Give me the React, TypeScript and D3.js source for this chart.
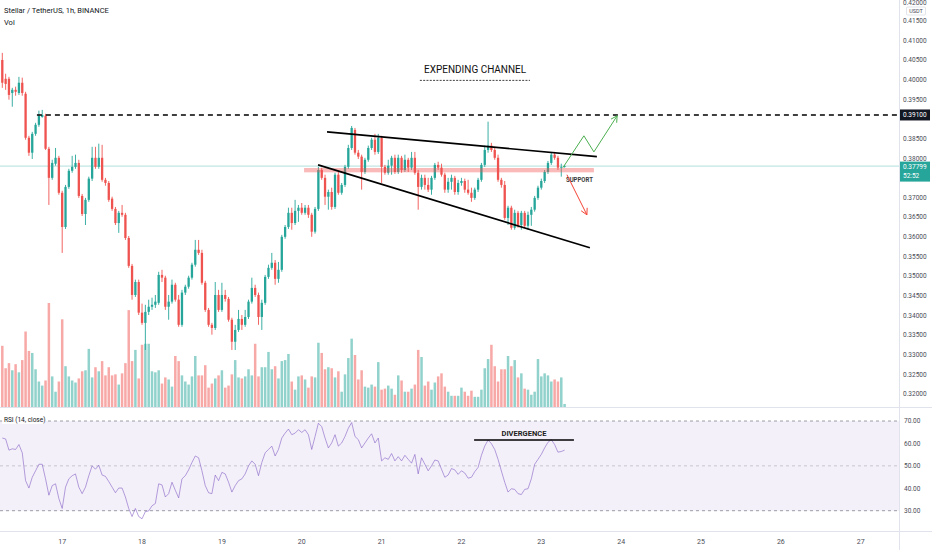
import React, { useEffect, useRef } from 'react';
import * as d3 from 'd3';

// hourly XLM/USDT bars, [open, high, low, close]
const candles: [number, number, number, number][] = [
  [0.4050, 0.4068, 0.3979, 0.3992], [0.4002, 0.4015, 0.3974, 0.3989], [0.4002, 0.4007, 0.3949, 0.3961],
  [0.3966, 0.3979, 0.3931, 0.3974], [0.3974, 0.3982, 0.3959, 0.3969], [0.3966, 0.4007, 0.3961, 0.3992],
  [0.3992, 0.4005, 0.3959, 0.3966], [0.3964, 0.3969, 0.3847, 0.3852], [0.3852, 0.3857, 0.3806, 0.3814],
  [0.3814, 0.3867, 0.3798, 0.3862], [0.3862, 0.3890, 0.3857, 0.3885], [0.3885, 0.3921, 0.3880, 0.3908],
  [0.3905, 0.3923, 0.3903, 0.3910], [0.3908, 0.3913, 0.3821, 0.3824], [0.3824, 0.3829, 0.3681, 0.3750],
  [0.3750, 0.3796, 0.3745, 0.3788], [0.3786, 0.3826, 0.3781, 0.3801], [0.3801, 0.3806, 0.3707, 0.3712],
  [0.3712, 0.3717, 0.3559, 0.3625], [0.3625, 0.3732, 0.3620, 0.3727], [0.3727, 0.3773, 0.3722, 0.3768],
  [0.3768, 0.3806, 0.3763, 0.3778], [0.3778, 0.3809, 0.3773, 0.3788], [0.3788, 0.3796, 0.3699, 0.3704],
  [0.3704, 0.3709, 0.3653, 0.3658], [0.3658, 0.3699, 0.3630, 0.3694], [0.3694, 0.3753, 0.3689, 0.3748],
  [0.3748, 0.3829, 0.3742, 0.3801], [0.3801, 0.3829, 0.3773, 0.3778], [0.3778, 0.3837, 0.3773, 0.3801],
  [0.3801, 0.3834, 0.3740, 0.3745], [0.3745, 0.3750, 0.3730, 0.3737], [0.3737, 0.3742, 0.3689, 0.3694],
  [0.3697, 0.3702, 0.3666, 0.3671], [0.3671, 0.3676, 0.3630, 0.3635], [0.3635, 0.3666, 0.3610, 0.3661],
  [0.3661, 0.3681, 0.3651, 0.3656], [0.3656, 0.3661, 0.3592, 0.3597], [0.3597, 0.3602, 0.3521, 0.3526],
  [0.3526, 0.3531, 0.3440, 0.3452], [0.3452, 0.3491, 0.3447, 0.3485], [0.3485, 0.3491, 0.3401, 0.3407],
  [0.3407, 0.3430, 0.3376, 0.3381], [0.3381, 0.3427, 0.3312, 0.3409], [0.3409, 0.3440, 0.3401, 0.3422],
  [0.3422, 0.3445, 0.3414, 0.3427], [0.3427, 0.3452, 0.3419, 0.3435], [0.3432, 0.3511, 0.3427, 0.3503],
  [0.3503, 0.3516, 0.3485, 0.3496], [0.3496, 0.3501, 0.3414, 0.3422], [0.3422, 0.3452, 0.3389, 0.3435],
  [0.3435, 0.3491, 0.3430, 0.3478], [0.3478, 0.3483, 0.3435, 0.3440], [0.3440, 0.3452, 0.3371, 0.3376],
  [0.3376, 0.3465, 0.3371, 0.3458], [0.3458, 0.3478, 0.3452, 0.3473], [0.3473, 0.3501, 0.3468, 0.3496],
  [0.3496, 0.3534, 0.3491, 0.3529], [0.3529, 0.3592, 0.3524, 0.3567], [0.3567, 0.3592, 0.3554, 0.3559],
  [0.3559, 0.3567, 0.3478, 0.3483], [0.3483, 0.3488, 0.3409, 0.3414], [0.3414, 0.3419, 0.3371, 0.3376],
  [0.3376, 0.3381, 0.3351, 0.3368], [0.3368, 0.3485, 0.3363, 0.3452], [0.3452, 0.3465, 0.3409, 0.3414],
  [0.3414, 0.3483, 0.3409, 0.3452], [0.3452, 0.3465, 0.3435, 0.3442], [0.3442, 0.3447, 0.3384, 0.3389],
  [0.3389, 0.3394, 0.3312, 0.3333], [0.3333, 0.3376, 0.3312, 0.3363], [0.3363, 0.3414, 0.3358, 0.3391],
  [0.3391, 0.3401, 0.3363, 0.3376], [0.3376, 0.3414, 0.3371, 0.3396], [0.3396, 0.3440, 0.3391, 0.3435],
  [0.3435, 0.3496, 0.3430, 0.3470], [0.3470, 0.3478, 0.3447, 0.3452], [0.3452, 0.3458, 0.3376, 0.3396],
  [0.3396, 0.3440, 0.3363, 0.3432], [0.3432, 0.3503, 0.3427, 0.3498], [0.3498, 0.3529, 0.3493, 0.3521],
  [0.3521, 0.3559, 0.3516, 0.3534], [0.3534, 0.3541, 0.3478, 0.3493], [0.3493, 0.3536, 0.3483, 0.3516],
  [0.3516, 0.3605, 0.3511, 0.3600], [0.3600, 0.3630, 0.3595, 0.3625], [0.3625, 0.3674, 0.3620, 0.3661],
  [0.3661, 0.3674, 0.3618, 0.3635], [0.3635, 0.3694, 0.3630, 0.3666], [0.3666, 0.3681, 0.3638, 0.3674],
  [0.3674, 0.3686, 0.3656, 0.3661], [0.3661, 0.3681, 0.3656, 0.3674], [0.3674, 0.3681, 0.3648, 0.3656],
  [0.3656, 0.3661, 0.3600, 0.3613], [0.3613, 0.3676, 0.3608, 0.3671], [0.3671, 0.3778, 0.3666, 0.3770],
  [0.3770, 0.3776, 0.3745, 0.3750], [0.3750, 0.3758, 0.3681, 0.3702], [0.3702, 0.3720, 0.3669, 0.3714],
  [0.3714, 0.3725, 0.3669, 0.3676], [0.3676, 0.3763, 0.3671, 0.3758], [0.3758, 0.3765, 0.3707, 0.3712],
  [0.3712, 0.3737, 0.3707, 0.3732], [0.3732, 0.3783, 0.3727, 0.3778], [0.3778, 0.3834, 0.3773, 0.3826],
  [0.3826, 0.3882, 0.3821, 0.3877], [0.3872, 0.3877, 0.3809, 0.3814], [0.3814, 0.3821, 0.3798, 0.3804],
  [0.3804, 0.3809, 0.3720, 0.3765], [0.3765, 0.3801, 0.3760, 0.3796], [0.3796, 0.3832, 0.3791, 0.3826],
  [0.3826, 0.3852, 0.3821, 0.3847], [0.3847, 0.3862, 0.3809, 0.3816], [0.3816, 0.3862, 0.3811, 0.3852],
  [0.3852, 0.3857, 0.3737, 0.3778], [0.3778, 0.3783, 0.3758, 0.3763], [0.3763, 0.3796, 0.3758, 0.3781],
  [0.3781, 0.3806, 0.3758, 0.3801], [0.3801, 0.3809, 0.3760, 0.3765], [0.3765, 0.3809, 0.3760, 0.3801],
  [0.3801, 0.3806, 0.3763, 0.3770], [0.3770, 0.3809, 0.3765, 0.3796], [0.3796, 0.3801, 0.3765, 0.3776],
  [0.3776, 0.3816, 0.3770, 0.3801], [0.3801, 0.3816, 0.3758, 0.3763], [0.3763, 0.3770, 0.3669, 0.3727],
  [0.3727, 0.3758, 0.3720, 0.3750], [0.3750, 0.3758, 0.3720, 0.3732], [0.3732, 0.3750, 0.3714, 0.3720],
  [0.3720, 0.3755, 0.3707, 0.3750], [0.3750, 0.3788, 0.3745, 0.3783], [0.3783, 0.3791, 0.3770, 0.3776],
  [0.3776, 0.3786, 0.3753, 0.3758], [0.3758, 0.3763, 0.3712, 0.3720], [0.3720, 0.3750, 0.3712, 0.3740],
  [0.3740, 0.3758, 0.3720, 0.3750], [0.3750, 0.3755, 0.3707, 0.3714], [0.3714, 0.3745, 0.3707, 0.3737],
  [0.3737, 0.3750, 0.3730, 0.3742], [0.3742, 0.3748, 0.3712, 0.3720], [0.3720, 0.3745, 0.3707, 0.3712],
  [0.3712, 0.3725, 0.3689, 0.3699], [0.3699, 0.3725, 0.3694, 0.3720], [0.3720, 0.3750, 0.3714, 0.3745],
  [0.3745, 0.3788, 0.3740, 0.3783], [0.3783, 0.3832, 0.3778, 0.3821], [0.3821, 0.3893, 0.3814, 0.3832],
  [0.3832, 0.3839, 0.3816, 0.3821], [0.3821, 0.3826, 0.3796, 0.3801], [0.3801, 0.3809, 0.3740, 0.3745],
  [0.3745, 0.3750, 0.3725, 0.3732], [0.3732, 0.3742, 0.3643, 0.3648], [0.3648, 0.3679, 0.3630, 0.3674],
  [0.3674, 0.3679, 0.3618, 0.3623], [0.3623, 0.3669, 0.3618, 0.3661], [0.3661, 0.3666, 0.3623, 0.3630],
  [0.3630, 0.3666, 0.3618, 0.3661], [0.3661, 0.3666, 0.3623, 0.3628], [0.3628, 0.3664, 0.3618, 0.3656],
  [0.3656, 0.3676, 0.3628, 0.3669], [0.3669, 0.3704, 0.3664, 0.3699], [0.3699, 0.3730, 0.3694, 0.3725],
  [0.3725, 0.3748, 0.3720, 0.3742], [0.3742, 0.3770, 0.3737, 0.3765], [0.3765, 0.3793, 0.3760, 0.3788],
  [0.3788, 0.3814, 0.3783, 0.3809], [0.3809, 0.3816, 0.3796, 0.3801], [0.3801, 0.3806, 0.3770, 0.3776],
  [0.3776, 0.3786, 0.3753, 0.3778], [0.3778, 0.3783, 0.3776, 0.37799],
];

// volume per bar (relative units, no scale shown on the chart)
const volumes: number[] = [
  60, 38, 43, 36, 42, 34, 46, 74, 55, 53,
  37, 25, 21, 26, 102, 30, 15, 25, 86, 40,
  30, 26, 24, 28, 35, 36, 57, 29, 39, 35,
  45, 31, 39, 31, 32, 22, 33, 43, 95, 45,
  56, 28, 61, 62, 62, 35, 34, 36, 23, 29,
  27, 20, 50, 45, 31, 25, 22, 30, 50, 31,
  31, 41, 19, 23, 28, 31, 36, 19, 21, 32,
  46, 29, 28, 30, 37, 31, 62, 30, 39, 39,
  54, 37, 40, 28, 45, 46, 52, 25, 17, 30,
  31, 27, 19, 30, 29, 63, 53, 37, 39, 38,
  29, 35, 15, 32, 48, 67, 51, 27, 36, 20,
  19, 22, 20, 44, 17, 18, 21, 18, 12, 31,
  26, 15, 15, 18, 22, 56, 49, 21, 25, 17,
  24, 30, 33, 20, 15, 11, 11, 11, 19, 15,
  11, 16, 10, 10, 17, 38, 47, 61, 40, 25,
  37, 37, 50, 40, 46, 29, 33, 18, 17, 12,
  15, 47, 30, 33, 31, 25, 27, 25, 29, 3,
];

// RSI (14, close)
const rsiValues: number[] = [
  62.4, 62.0, 57.0, 57.6, 57.3, 59.5, 55.8, 43.4, 40.1, 44.9,
  47.8, 50.7, 50.7, 44.2, 36.9, 41.2, 42.0, 35.4, 31.0, 40.5,
  44.2, 45.6, 46.4, 40.5, 37.6, 40.5, 45.6, 50.0, 48.5, 50.3,
  45.9, 45.3, 43.0, 40.5, 38.0, 40.1, 40.1, 36.1, 31.0, 27.4,
  31.0, 27.4, 26.4, 29.6, 29.9, 32.2, 33.2, 42.0, 41.5, 36.1,
  37.6, 42.7, 39.1, 35.7, 44.2, 45.6, 48.2, 51.5, 54.4, 53.6,
  47.8, 41.2, 38.0, 37.6, 45.9, 43.4, 47.1, 46.4, 42.7, 38.3,
  41.2, 43.4, 44.2, 46.4, 50.0, 52.2, 50.7, 45.6, 51.5, 55.8,
  57.3, 58.8, 54.4, 57.3, 62.4, 64.6, 66.4, 63.9, 64.6, 66.1,
  64.9, 66.1, 63.9, 57.3, 63.1, 69.0, 67.5, 62.4, 58.0, 60.2,
  63.9, 58.8, 60.2, 63.1, 66.8, 69.3, 63.1, 61.7, 58.0, 60.2,
  62.4, 64.3, 60.2, 62.4, 52.2, 53.6, 52.9, 55.5, 52.2, 54.1,
  52.2, 54.7, 52.9, 51.2, 55.1, 46.4, 53.6, 50.7, 47.8, 50.0,
  52.6, 52.2, 48.5, 44.9, 45.9, 48.8, 48.2, 46.2, 47.8, 46.8,
  44.5, 44.9, 47.4, 49.3, 54.7, 58.8, 61.5, 59.9, 57.3, 52.9,
  47.7, 42.7, 38.3, 39.8, 39.5, 37.6, 37.2, 39.5, 39.8, 44.2,
  50.7, 52.9, 55.1, 58.0, 60.5, 61.7, 59.5, 56.1, 56.4, 57.0,
];

// tick labels (0.39000 and 0.37500 sit under the price tags, so they are not listed)
const priceTicks = [0.42, 0.415, 0.41, 0.405, 0.4, 0.395, 0.385, 0.38, 0.37, 0.365,
  0.36, 0.355, 0.35, 0.345, 0.34, 0.335, 0.33, 0.325, 0.32];
const rsiTicks = [70, 60, 50, 40, 30];
const dayTicks = [17, 18, 19, 20, 21, 22, 23, 24, 25, 26, 27];

// drawings, as [bar index, price]
const resistance = { price: 0.391, fromBar: 10.4 };
const upperChannel: [number, number][] = [[97.6, 0.3867], [178.7, 0.3804]];
const lowerChannel: [number, number][] = [[94.9, 0.3783], [176.6, 0.3572]];
const supportZone = { fromBar: 90.7, toBar: 177.8, low: 0.3764, high: 0.3775 };
const bullishPath: [number, number][] = [[168.5, 0.3776], [174.8, 0.3857], [177.8, 0.3816], [184.8, 0.3908]];
const bearishPath: [number, number][] = [[169.7, 0.3758], [175.7, 0.3656]];
const divergence = { fromBar: 141.8, toBar: 171.8, rsi: 61.5 };

const UP = '#26a69a';
const DOWN = '#ef5350';
const TEXT = '#131722';
const FONT = 'Roboto, "DejaVu Sans", sans-serif';

const App: React.FC = () => {
  const svgRef = useRef<SVGSVGElement>(null);

  useEffect(() => {
    if (!svgRef.current) return;
    const svg = d3.select(svgRef.current);
    svg.selectAll('*').remove();

    const paneRight = 899;
    const priceBottom = 407;
    const rsiBottom = 531;

    // time scale: one bar per hour, first bar on the 16th at 06:00
    const t0 = Date.UTC(2021, 10, 16, 6);
    const hour = 3600 * 1000;
    const x = d3.scaleUtc()
      .domain([new Date(t0), new Date(t0 + 169 * hour)])
      .range([2.3, 564.6]);
    const barX = (i: number) => x(new Date(t0 + i * hour));

    const y = d3.scaleLinear().domain([0.32, 0.415]).range([394, 20.65]);
    const yVol = d3.scaleLinear().domain([0, 100]).range([priceBottom, 305]);
    const yRsi = d3.scaleLinear().domain([30, 70]).range([510.7, 421]);

    const defs = svg.append('defs');
    defs.append('clipPath').attr('id', 'price-clip')
      .append('rect').attr('x', 0).attr('y', 0).attr('width', paneRight).attr('height', priceBottom);
    defs.append('clipPath').attr('id', 'rsi-clip')
      .append('rect').attr('x', 0).attr('y', priceBottom + 1).attr('width', paneRight).attr('height', rsiBottom - priceBottom - 1);

    svg.append('rect').attr('width', 932).attr('height', 550).attr('fill', '#ffffff');

    // ---------- price pane ----------
    const price = svg.append('g').attr('clip-path', 'url(#price-clip)');

    // volume bars
    price.selectAll('.vol')
      .data(volumes)
      .enter()
      .append('rect')
      .attr('x', (_, i) => barX(i) - 1.25)
      .attr('y', (d) => yVol(d))
      .attr('width', 2.5)
      .attr('height', (d) => priceBottom - yVol(d))
      .attr('fill', (_, i) => (candles[i][3] >= candles[i][0] ? '#92d2cc' : '#f7a9a7'));

    // last price line
    const last = candles[candles.length - 1][3];
    price.append('line')
      .attr('x1', 0).attr('x2', paneRight)
      .attr('y1', y(last)).attr('y2', y(last))
      .attr('stroke', UP).attr('stroke-opacity', 0.35).attr('stroke-width', 1);

    // candles
    const bars = price.selectAll('.bar')
      .data(candles)
      .enter()
      .append('g');
    bars.append('line')
      .attr('x1', (_, i) => barX(i)).attr('x2', (_, i) => barX(i))
      .attr('y1', (d) => y(d[1])).attr('y2', (d) => y(d[2]))
      .attr('stroke', (d) => (d[3] >= d[0] ? UP : DOWN))
      .attr('stroke-width', 0.9);
    bars.append('rect')
      .attr('x', (_, i) => barX(i) - 1.15)
      .attr('y', (d) => y(Math.max(d[0], d[3])))
      .attr('width', 2.3)
      .attr('height', (d) => Math.max(0.8, Math.abs(y(d[0]) - y(d[3]))))
      .attr('fill', (d) => (d[3] >= d[0] ? UP : DOWN));

    // support zone
    price.append('rect')
      .attr('x', barX(supportZone.fromBar))
      .attr('y', y(supportZone.high))
      .attr('width', barX(supportZone.toBar) - barX(supportZone.fromBar))
      .attr('height', y(supportZone.low) - y(supportZone.high))
      .attr('fill', DOWN).attr('fill-opacity', 0.4);

    price.append('text')
      .attr('x', barX(169.4))
      .attr('y', y(supportZone.low) + 9.5)
      .attr('font-family', FONT).attr('font-size', 7.5).attr('font-weight', 'bold')
      .attr('fill', '#3a3a3a')
      .attr('textLength', 27).attr('lengthAdjust', 'spacingAndGlyphs')
      .text('SUPPORT');

    // resistance level
    price.append('line')
      .attr('x1', barX(resistance.fromBar)).attr('x2', paneRight)
      .attr('y1', y(resistance.price)).attr('y2', y(resistance.price))
      .attr('stroke', '#000').attr('stroke-width', 1.4).attr('stroke-dasharray', '5,4');

    // channel
    const line = d3.line<[number, number]>().x((d) => barX(d[0])).y((d) => y(d[1]));
    [upperChannel, lowerChannel].forEach((pts) => {
      price.append('path').attr('d', line(pts)).attr('fill', 'none')
        .attr('stroke', '#000').attr('stroke-width', 1.6);
    });

    // projected moves with arrow heads
    const arrow = (pts: [number, number][], color: string) => {
      price.append('path').attr('d', line(pts)).attr('fill', 'none')
        .attr('stroke', color).attr('stroke-width', 1);
      const [ax, ay] = [barX(pts[pts.length - 2][0]), y(pts[pts.length - 2][1])];
      const [bx, by] = [barX(pts[pts.length - 1][0]), y(pts[pts.length - 1][1])];
      const ang = Math.atan2(by - ay, bx - ax);
      [-0.5, 0.5].forEach((da) => {
        price.append('line')
          .attr('x1', bx).attr('y1', by)
          .attr('x2', bx - 7 * Math.cos(ang + da)).attr('y2', by - 7 * Math.sin(ang + da))
          .attr('stroke', color).attr('stroke-width', 1);
      });
    };
    arrow(bullishPath, '#4caf50');
    arrow(bearishPath, '#f44336');

    // title
    price.append('text')
      .attr('x', barX(142.1)).attr('y', y(0.4027) + 4)
      .attr('text-anchor', 'middle')
      .attr('font-family', FONT).attr('font-size', 10.5)
      .attr('fill', '#111')
      .attr('textLength', 102).attr('lengthAdjust', 'spacingAndGlyphs')
      .text('EXPENDING CHANNEL');
    price.append('line')
      .attr('x1', barX(125.5)).attr('x2', barX(158.6))
      .attr('y1', y(0.3998)).attr('y2', y(0.3998))
      .attr('stroke', '#111').attr('stroke-width', 0.8).attr('stroke-dasharray', '2,1.3');

    // legend
    svg.append('text').attr('x', 4).attr('y', 13)
      .attr('font-family', FONT).attr('font-size', 7.5).attr('fill', TEXT)
      .text('Stellar / TetherUS, 1h, BINANCE');
    svg.append('text').attr('x', 4).attr('y', 25)
      .attr('font-family', FONT).attr('font-size', 7.5).attr('fill', TEXT)
      .text('Vol');

    // ---------- RSI pane ----------
    const rsi = svg.append('g').attr('clip-path', 'url(#rsi-clip)');
    rsi.append('rect')
      .attr('x', 0).attr('y', yRsi(70))
      .attr('width', paneRight).attr('height', yRsi(30) - yRsi(70))
      .attr('fill', '#7e57c2').attr('fill-opacity', 0.09);
    rsiTicks.filter((t) => t !== 60 && t !== 40).forEach((t) => {
      rsi.append('line')
        .attr('x1', 0).attr('x2', paneRight)
        .attr('y1', yRsi(t)).attr('y2', yRsi(t))
        .attr('stroke', '#787b86').attr('stroke-width', 0.8)
        .attr('stroke-opacity', t === 50 ? 0.45 : 0.9)
        .attr('stroke-dasharray', '3,3');
    });
    const rsiLine = d3.line<number>().x((_, i) => barX(i)).y((d) => yRsi(d));
    rsi.append('path').attr('d', rsiLine(rsiValues)).attr('fill', 'none')
      .attr('stroke', '#7e57c2').attr('stroke-opacity', 0.7).attr('stroke-width', 0.8);

    rsi.append('line')
      .attr('x1', barX(divergence.fromBar)).attr('x2', barX(divergence.toBar))
      .attr('y1', yRsi(divergence.rsi)).attr('y2', yRsi(divergence.rsi))
      .attr('stroke', '#000').attr('stroke-width', 1.4);
    rsi.append('text')
      .attr('x', (barX(divergence.fromBar) + barX(divergence.toBar)) / 2)
      .attr('y', yRsi(divergence.rsi) - 4)
      .attr('text-anchor', 'middle')
      .attr('font-family', FONT).attr('font-size', 7).attr('font-weight', 'bold').attr('fill', '#222')
      .attr('textLength', 45).attr('lengthAdjust', 'spacingAndGlyphs')
      .text('DIVERGENCE');

    rsi.append('rect').attr('x', 2).attr('y', 415).attr('width', 43).attr('height', 9)
      .attr('fill', '#fff').attr('fill-opacity', 0.85);
    rsi.append('text').attr('x', 4).attr('y', 422)
      .attr('font-family', FONT).attr('font-size', 6.5).attr('fill', TEXT)
      .text('RSI (14, close)');

    // ---------- frame ----------
    const frame = '#e0e3eb';
    svg.append('line').attr('x1', 0).attr('x2', 932).attr('y1', priceBottom + 0.5).attr('y2', priceBottom + 0.5)
      .attr('stroke', frame);
    svg.append('line').attr('x1', 0).attr('x2', 932).attr('y1', rsiBottom + 0.5).attr('y2', rsiBottom + 0.5)
      .attr('stroke', frame);
    svg.append('line').attr('x1', paneRight + 0.5).attr('x2', paneRight + 0.5).attr('y1', 0).attr('y2', 550)
      .attr('stroke', frame);

    // price axis
    const fmtPrice = d3.format('.5f');
    svg.selectAll('.ptick')
      .data(priceTicks)
      .enter()
      .append('text')
      .attr('x', 903).attr('y', (d) => Math.max(5, y(d) + 2.3))
      .attr('font-family', FONT).attr('font-size', 6.5).attr('fill', '#4a4d57')
      .text((d) => fmtPrice(d));

    svg.append('rect').attr('x', 906.5).attr('y', 7).attr('width', 19).attr('height', 8)
      .attr('fill', '#fff').attr('stroke', '#d1d4dc').attr('stroke-width', 0.6).attr('rx', 1);
    svg.append('text').attr('x', 916).attr('y', 13.1).attr('text-anchor', 'middle')
      .attr('font-family', FONT).attr('font-size', 5.5).attr('fill', '#4a4d57')
      .text('USDT');

    svg.append('rect').attr('x', 900).attr('y', y(resistance.price) - 5.5).attr('width', 30).attr('height', 11)
      .attr('fill', TEXT);
    svg.append('text').attr('x', 903).attr('y', y(resistance.price) + 2.3)
      .attr('font-family', FONT).attr('font-size', 6.5).attr('fill', '#fff')
      .text(fmtPrice(resistance.price));

    svg.append('rect').attr('x', 900).attr('y', y(last) - 4.5).attr('width', 30).attr('height', 20)
      .attr('fill', UP);
    svg.append('text').attr('x', 903).attr('y', y(last) + 2.5)
      .attr('font-family', FONT).attr('font-size', 6.5).attr('fill', '#fff')
      .text(fmtPrice(last));
    svg.append('text').attr('x', 903).attr('y', y(last) + 11.5)
      .attr('font-family', FONT).attr('font-size', 6.5).attr('fill', '#fff')
      .text('52:52');

    // RSI axis
    svg.selectAll('.rtick')
      .data(rsiTicks)
      .enter()
      .append('text')
      .attr('x', 904).attr('y', (d) => yRsi(d) + 2.3)
      .attr('font-family', FONT).attr('font-size', 6.5).attr('fill', '#4a4d57')
      .text((d) => d3.format('.2f')(d));

    // time axis
    svg.selectAll('.dtick')
      .data(dayTicks)
      .enter()
      .append('text')
      .attr('x', (d) => x(new Date(Date.UTC(2021, 10, d))))
      .attr('y', 543.5)
      .attr('text-anchor', 'middle')
      .attr('font-family', FONT).attr('font-size', 7).attr('fill', '#4a4d57')
      .text((d) => String(d));
  }, []);

  return (
    <svg
      ref={svgRef}
      width={932}
      height={550}
      style={{ position: 'absolute', left: 0, top: 0, display: 'block' }}
    />
  );
};

export default App;
